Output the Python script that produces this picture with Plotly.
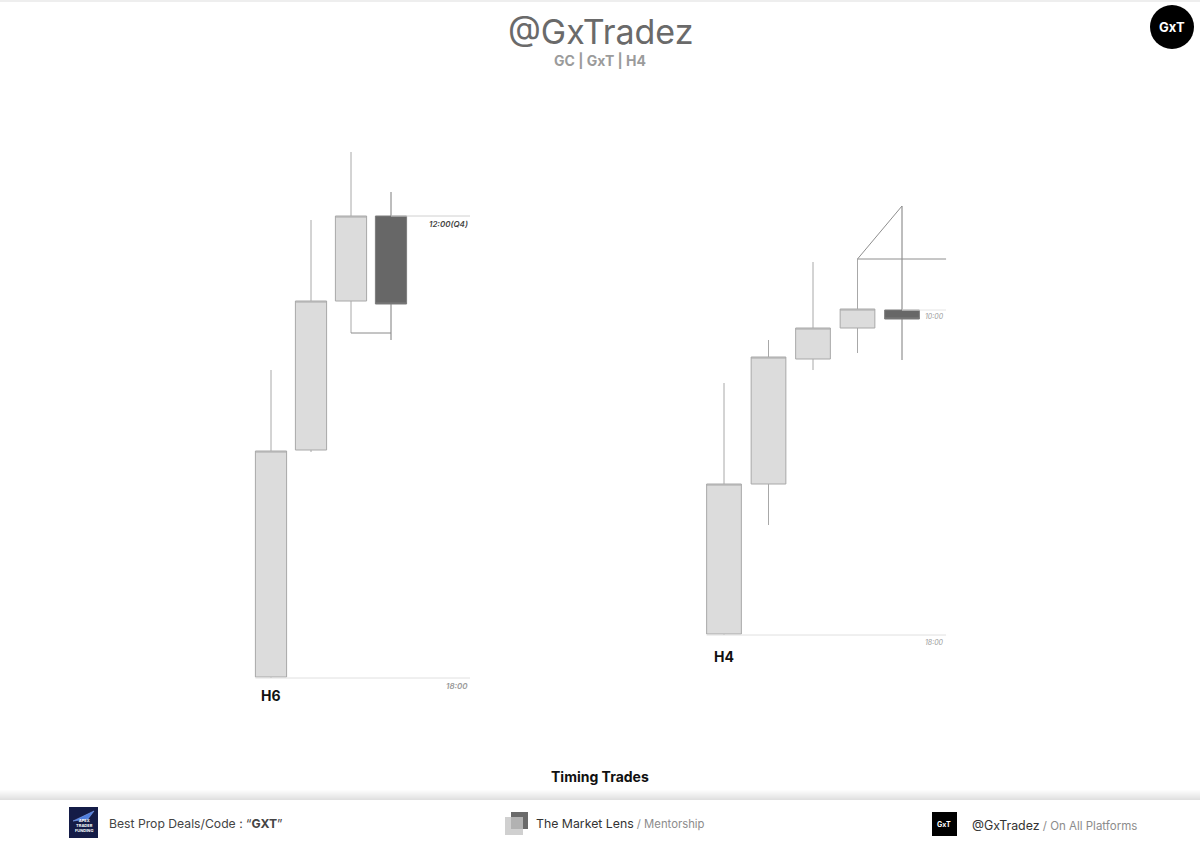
import plotly.graph_objects as go

# ---------------- data ----------------
# H6 chart (left)
H6_X = [0, 1, 2, 3]
H6_OPEN = [2600.0, 2645.4, 2675.2, 2692.2]
H6_HIGH = [2661.4, 2691.4, 2705.0, 2697.0]
H6_LOW = [2599.8, 2645.0, 2668.8, 2667.4]
H6_CLOSE = [2645.2, 2675.2, 2692.2, 2674.6]

# H4 chart (right)
H4_X = [0, 1, 2, 3, 4]
H4_OPEN = [2600.0, 2630.0, 2655.0, 2661.2, 2664.8]
H4_HIGH = [2650.2, 2658.8, 2674.4, 2675.0, 2685.6]
H4_LOW = [2599.8, 2621.8, 2652.8, 2656.2, 2654.8]
H4_CLOSE = [2630.0, 2655.4, 2661.2, 2665.0, 2663.0]

TITLE = "@GxTradez"
SUBTITLE = "GC | GxT | H4"
CAPTION = "Timing Trades"
H6_LABEL_LEVEL = "12:00(Q4)"
H6_LABEL_BASE = "18:00"
H4_LABEL_LEVEL = "10:00"
H4_LABEL_BASE = "18:00"

W, H = 1200, 848
FONT = "Inter"


def py(p):
    """pixel y -> paper y"""
    return 1 - p / H


def px(p):
    return p / W


fig = go.Figure()

inc = dict(fillcolor="#dcdcdc", line=dict(color="#a8a8a8", width=1))
dec = dict(fillcolor="#676767", line=dict(color="#7d7d7d", width=1))

fig.add_trace(go.Candlestick(
    x=H6_X, open=H6_OPEN, high=H6_HIGH, low=H6_LOW, close=H6_CLOSE,
    xaxis="x", yaxis="y", increasing=inc, decreasing=dec,
    whiskerwidth=0, hoverinfo="skip", showlegend=False))

fig.add_trace(go.Candlestick(
    x=H4_X, open=H4_OPEN, high=H4_HIGH, low=H4_LOW, close=H4_CLOSE,
    xaxis="x2", yaxis="y2", increasing=inc, decreasing=dec,
    whiskerwidth=0, hoverinfo="skip", showlegend=False))

HALF = 0.39  # half body width in x units
L_END = 4.975
R_END = 4.99


def line(xs, ys, xa, ya, color, width=1):
    fig.add_trace(go.Scatter(x=xs, y=ys, xaxis=xa, yaxis=ya, mode="lines",
                             line=dict(color=color, width=width),
                             hoverinfo="skip", showlegend=False))


# Left chart drawings
line([H6_X[3], L_END], [H6_OPEN[3]] * 2, "x", "y", "#d0d0d0")
line([H6_X[0] - HALF, L_END], [H6_LOW[0]] * 2, "x", "y", "#e0e0e0")
line([H6_X[2], H6_X[3]], [H6_LOW[2]] * 2, "x", "y", "#8a8a8a")

# Right chart drawings
line([H4_X[0] - HALF, R_END], [H4_LOW[0]] * 2, "x2", "y2", "#e0e0e0")
line([H4_X[3], R_END], [H4_HIGH[3]] * 2, "x2", "y2", "#8e8e8e")
line([H4_X[3], H4_X[4]], [H4_HIGH[3], H4_HIGH[4]], "x2", "y2", "#8e8e8e")
line([H4_X[4], R_END], [H4_OPEN[4]] * 2, "x2", "y2", "#e4e4e4")

annotations = []

# chart labels
annotations += [
    dict(x=L_END, y=H6_OPEN[3], xref="x", yref="y", text=H6_LABEL_LEVEL,
         xanchor="right", yanchor="top", yshift=-1, showarrow=False,
         font=dict(family=FONT, size=8, color="#444", style="italic", weight=600)),
    dict(x=L_END, y=H6_LOW[0], xref="x", yref="y", text=H6_LABEL_BASE,
         xanchor="right", yanchor="top", yshift=-1, showarrow=False,
         font=dict(family=FONT, size=8, color="#9a9a9a", style="italic", weight=600)),
    dict(x=H6_X[0], y=H6_LOW[0], xref="x", yref="y", text="H6",
         xanchor="center", yanchor="middle", yshift=-17, showarrow=False,
         font=dict(family=FONT, size=14, color="#111", weight=700)),
    dict(x=R_END, y=H4_OPEN[4], xref="x2", yref="y2", text=H4_LABEL_LEVEL,
         xanchor="right", yanchor="top", yshift=0, showarrow=False,
         font=dict(family=FONT, size=7, color="#9a9a9a", style="italic")),
    dict(x=R_END, y=H4_LOW[0], xref="x2", yref="y2", text=H4_LABEL_BASE,
         xanchor="right", yanchor="top", yshift=-1, showarrow=False,
         font=dict(family=FONT, size=7, color="#9a9a9a", style="italic")),
    dict(x=H4_X[0], y=H4_LOW[0], xref="x2", yref="y2", text="H4",
         xanchor="center", yanchor="middle", yshift=-21, showarrow=False,
         font=dict(family=FONT, size=14, color="#111", weight=700)),
]

# header
annotations += [
    dict(x=0.5, y=py(32), xref="paper", yref="paper", text=TITLE, showarrow=False,
         xanchor="center", yanchor="middle",
         font=dict(family=FONT, size=34, color="#6a6a6a")),
    dict(x=0.5, y=py(60), xref="paper", yref="paper", text=SUBTITLE, showarrow=False,
         xanchor="center", yanchor="middle",
         font=dict(family=FONT, size=14, color="#9b9b9b", weight=700)),
    dict(x=px(1172), y=py(27), xref="paper", yref="paper", text="GxT", showarrow=False,
         xanchor="center", yanchor="middle",
         font=dict(family=FONT, size=13, color="#ffffff", weight=700)),
    dict(x=0.5, y=py(776), xref="paper", yref="paper", text=CAPTION, showarrow=False,
         xanchor="center", yanchor="middle",
         font=dict(family=FONT, size=14, color="#111", weight=700)),
]

# footer
annotations += [
    dict(x=px(107), y=py(823), xref="paper", yref="paper",
         text="Best Prop Deals/Code : “<b>GXT</b>”", showarrow=False,
         xanchor="left", yanchor="middle",
         font=dict(family=FONT, size=12.2, color="#444")),
    dict(x=px(534), y=py(823), xref="paper", yref="paper",
         text="The Market Lens<span style='color:#8c8c8c;font-size:11.3px'> / Mentorship</span>",
         showarrow=False, xanchor="left", yanchor="middle",
         font=dict(family=FONT, size=12.3, color="#333")),
    dict(x=px(970), y=py(825), xref="paper", yref="paper",
         text="@GxTradez<span style='color:#8c8c8c;font-size:11.5px'> / On All Platforms</span>",
         showarrow=False, xanchor="left", yanchor="middle",
         font=dict(family=FONT, size=12.4, color="#333")),
    dict(x=px(944), y=py(824), xref="paper", yref="paper", text="GxT", showarrow=False,
         xanchor="center", yanchor="middle",
         font=dict(family=FONT, size=7, color="#fff", weight=700)),
    dict(x=px(83.5), y=py(825), xref="paper", yref="paper",
         text="APEX<br>TRADER<br>FUNDING", showarrow=False,
         xanchor="center", yanchor="middle", align="center",
         font=dict(family=FONT, size=4, color="#fff", weight=700)),
]

shapes = []
# top faint border
shapes.append(dict(type="rect", xref="paper", yref="paper", x0=0, x1=1,
                   y0=py(2), y1=1, fillcolor="#eeeeee", line=dict(width=0), layer="below"))
# header logo circle
shapes.append(dict(type="circle", xref="paper", yref="paper",
                   x0=px(1150), x1=px(1194), y0=py(49), y1=py(5),
                   fillcolor="#000", line=dict(width=0)))
# footer shadow band
for i in range(10):
    y0 = 790 + i
    op = 0.012 * (i + 1)
    shapes.append(dict(type="rect", xref="paper", yref="paper", x0=0, x1=1,
                       y0=py(y0 + 1), y1=py(y0), fillcolor="#000", opacity=op,
                       line=dict(width=0), layer="below"))
# apex logo
shapes.append(dict(type="rect", xref="paper", yref="paper",
                   x0=px(69), x1=px(98), y0=py(838), y1=py(807),
                   fillcolor="#141c47", line=dict(width=0)))
shapes.append(dict(type="path", xref="paper", yref="paper",
                   path=f"M {px(73)},{py(821)} L {px(94)},{py(811)} L {px(88)},{py(819)} Z",
                   fillcolor="#4f7fe0", line=dict(color="#8fb0ff", width=0.5)))
# market lens icon
shapes.append(dict(type="rect", xref="paper", yref="paper",
                   x0=px(511), x1=px(528), y0=py(829), y1=py(812),
                   fillcolor="#6a6a6a", line=dict(width=0)))
shapes.append(dict(type="rect", xref="paper", yref="paper",
                   x0=px(505), x1=px(523), y0=py(835), y1=py(817),
                   fillcolor="#c4c4c4", opacity=0.8, line=dict(width=0)))
# GxT square
shapes.append(dict(type="rect", xref="paper", yref="paper",
                   x0=px(932), x1=px(957), y0=py(836), y1=py(812),
                   fillcolor="#000", line=dict(width=0)))

hidden = dict(visible=False, showgrid=False, zeroline=False, fixedrange=True)

fig.update_layout(
    width=W, height=H, autosize=False,
    margin=dict(l=0, r=0, t=0, b=0),
    paper_bgcolor="#ffffff", plot_bgcolor="rgba(0,0,0,0)",
    boxgap=0.22, boxgroupgap=0,
    showlegend=False,
    xaxis=dict(domain=[px(240), px(480)], range=[-0.775, 5.225],
               rangeslider=dict(visible=False), anchor="y", **hidden),
    yaxis=dict(domain=[py(700), py(140)], range=[2595.4, 2707.4], anchor="x", **hidden),
    xaxis2=dict(domain=[px(690), px(960)], range=[-0.764, 5.303],
                rangeslider=dict(visible=False), anchor="y2", **hidden),
    yaxis2=dict(domain=[py(660), py(180)], range=[2594.8, 2690.8], anchor="x2", **hidden),
    annotations=annotations,
    shapes=shapes,
)

fig.write_html("out.html", config={"displayModeBar": False},
               post_script="document.body.style.margin='0';document.body.style.overflow='hidden';")
